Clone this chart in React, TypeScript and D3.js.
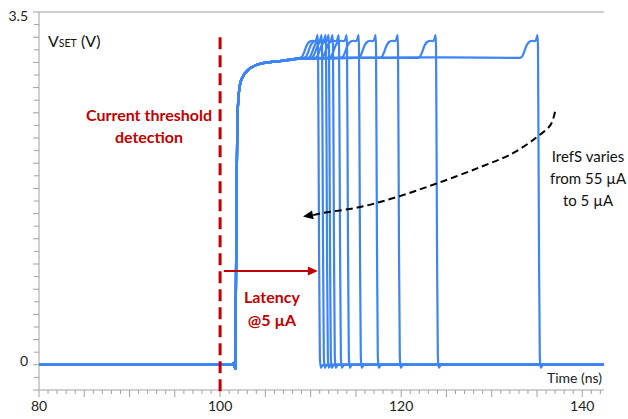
import React, { useEffect } from "react";
import * as d3 from "d3";

const W = 628;
const H = 419;
const margin = { top: 12, right: 24, bottom: 29, left: 39 };

// axes: time in ns, voltage in V
const xDomain: [number, number] = [80, 142.4];
const yDomain: [number, number] = [-0.25, 3.5];
const xLabels = [80, 100, 120, 140];
const yLabels = [0, 3.5];

// rising edge shared by all traces, [t (ns), V]
const riseShape: [number, number][] = [
  [80, 0],
  [101.3, 0],
  [101.5, 0.02],
  [101.68, -0.04],
  [101.78, 1.2],
  [101.9, 2.4],
  [102.1, 2.72],
  [102.4, 2.84],
  [103.3, 2.94],
  [104.6, 2.99],
  [106.4, 3.01],
  [109, 3.04],
  [115, 3.045],
  [125, 3.05],
  [134, 3.05],
];

// fall time of each trace (ns), IrefS from 55 µA down to 5 µA
const fallTimes = [
  110.82, 111.26, 111.7, 112.03, 112.47, 113.14, 114.02, 115.34, 117.22,
  119.65, 123.85, 135.11,
];

// bump + falling edge, [dt from fall time (ns), V]
const fallShape: [number, number][] = [
  [-2.0, 3.045],
  [-1.75, 3.06],
  [-1.5, 3.11],
  [-1.25, 3.17],
  [-0.95, 3.205],
  [-0.6, 3.215],
  [-0.3, 3.21],
  [-0.12, 3.25],
  [-0.05, 3.27],
  [0, 3.15],
  [0.1, 1.3],
  [0.2, 0.08],
  [0.3, -0.03],
  [0.55, 0],
];

// annotations in data units
const thresholdTime = 100;
const thresholdSpan: [number, number] = [3.25, -0.3];
const latencyArrow: [number, number][] = [
  [100.4, 0.93],
  [110.8, 0.93],
];
const irefArrow: [number, number][] = [
  [136.99, 2.51],
  [136.5, 2.38],
  [135.0, 2.26],
  [132.35, 2.1],
  [128.7, 1.96],
  [123.96, 1.8],
  [119.54, 1.665],
  [115.45, 1.565],
  [111.37, 1.506],
  [109.6, 1.47],
];

const BLUE = "#3d85f5";
const RED = "#c00000";
const AXIS = "#a0a0a0";
const FONT = "Lato, 'Open Sans', sans-serif";

export default function App() {
  useEffect(() => {
    document.body.style.margin = "0";
  }, []);

  const x = d3
    .scaleLinear()
    .domain(xDomain)
    .range([margin.left, W - margin.right]);
  const y = d3
    .scaleLinear()
    .domain(yDomain)
    .range([H - margin.bottom, margin.top]);

  const traces = fallTimes.map((tf) => {
    const start = tf + fallShape[0][0];
    const pts: [number, number][] = riseShape.filter((p) => p[0] < start - 0.05);
    fallShape.forEach(([dt, v]) => pts.push([tf + dt, v]));
    pts.push([xDomain[1], 0]);
    return pts;
  });

  const line = d3
    .line<[number, number]>()
    .x((d) => x(d[0]))
    .y((d) => y(d[1]))
    .curve(d3.curveMonotoneX);

  const smooth = d3
    .line<[number, number]>()
    .x((d) => x(d[0]))
    .y((d) => y(d[1]))
    .curve(d3.curveCatmullRom);

  const xTicks = d3.range(80, 143, 1);
  const yTicks = d3.range(0, 31).map((i) => -0.25 + i * 0.125);

  const x0 = x(xDomain[0]);
  const x1 = x(xDomain[1]);
  const yBottom = y(yDomain[0]);
  const yTop = y(yDomain[1]);

  // arrow heads
  const la = latencyArrow[1];
  const lax = x(la[0]);
  const lay = y(la[1]);
  const tip = irefArrow[irefArrow.length - 1];
  const tipx = x(tip[0]) - 4;
  const tipy = y(tip[1]);
  const prev = irefArrow[irefArrow.length - 2];
  const ang = Math.atan2(tipy - y(prev[1]), tipx - x(prev[0]));
  const headPts = [
    [tipx, tipy],
    [tipx - 10 * Math.cos(ang) + 4.5 * Math.sin(ang), tipy - 10 * Math.sin(ang) - 4.5 * Math.cos(ang)],
    [tipx - 10 * Math.cos(ang) - 4.5 * Math.sin(ang), tipy - 10 * Math.sin(ang) + 4.5 * Math.cos(ang)],
  ]
    .map((p) => p.join(","))
    .join(" ");

  return (
    <svg width={W} height={H} style={{ display: "block", background: "#fff" }} fontFamily={FONT}>
      {/* frame */}
      <line x1={x0} x2={x1} y1={yTop} y2={yTop} stroke={AXIS} />
      <line x1={x0} x2={x0} y1={yTop} y2={yBottom} stroke={AXIS} />
      <line x1={x0} x2={x1} y1={yBottom} y2={yBottom} stroke={AXIS} />

      {/* y ticks */}
      {yTicks.map((v, i) => (
        <line
          key={"yt" + i}
          x1={x0 - (i % 2 === 0 ? 6 : 5)}
          x2={x0}
          y1={y(v)}
          y2={y(v)}
          stroke={AXIS}
        />
      ))}
      {yLabels.map((v) => (
        <text key={"yl" + v} x={28} y={y(v) + (v === 0 ? 1 : 9)} textAnchor="end" fontSize={14} fill="#222">
          {v}
        </text>
      ))}

      {/* x ticks */}
      {xTicks.map((t) => (
        <line
          key={"xt" + t}
          x1={x(t)}
          x2={x(t)}
          y1={yBottom}
          y2={yBottom + (t % 5 === 0 ? 7 : 4)}
          stroke={AXIS}
        />
      ))}
      {xLabels.map((t) => (
        <text key={"xl" + t} x={x(t)} y={411} textAnchor="middle" fontSize={14} fill="#222">
          {t}
        </text>
      ))}

      <text x={48} y={47} fontSize={16} fill="#111">
        V<tspan fontSize={10.5}>SET</tspan> (V)
      </text>
      <text x={602} y={383} textAnchor="end" fontSize={14} fill="#222">
        Time (ns)
      </text>

      {/* traces */}
      {traces.map((pts, i) => (
        <path key={"tr" + i} d={line(pts) || ""} fill="none" stroke={BLUE} strokeWidth={2.2} strokeLinejoin="round" />
      ))}

      {/* current threshold detection */}
      <line
        x1={x(thresholdTime)}
        x2={x(thresholdTime)}
        y1={y(thresholdSpan[0])}
        y2={y(thresholdSpan[1])}
        stroke={RED}
        strokeWidth={3}
        strokeDasharray="12,6"
      />
      <text x={149} y={121} textAnchor="middle" fontSize={16} fontWeight="bold" fill={RED}>
        Current threshold
      </text>
      <text x={149} y={143} textAnchor="middle" fontSize={16} fontWeight="bold" fill={RED}>
        detection
      </text>

      {/* latency arrow */}
      <line
        x1={x(latencyArrow[0][0])}
        x2={lax - 8}
        y1={y(latencyArrow[0][1])}
        y2={lay}
        stroke={RED}
        strokeWidth={2}
      />
      <polygon points={`${lax},${lay} ${lax - 10},${lay - 4.5} ${lax - 10},${lay + 4.5}`} fill={RED} />
      <text x={272} y={303} textAnchor="middle" fontSize={16} fontWeight="bold" fill={RED}>
        Latency
      </text>
      <text x={272} y={326} textAnchor="middle" fontSize={16} fontWeight="bold" fill={RED}>
        @5 µA
      </text>

      {/* IrefS arrow */}
      <path d={smooth(irefArrow) || ""} fill="none" stroke="#000" strokeWidth={2} strokeDasharray="7,4" />
      <polygon points={headPts} fill="#000" />
      <text x={588} y={162} textAnchor="middle" fontSize={15} fill="#111">
        IrefS varies
      </text>
      <text x={588} y={184} textAnchor="middle" fontSize={15} fill="#111">
        from 55 µA
      </text>
      <text x={588} y={206} textAnchor="middle" fontSize={15} fill="#111">
        to 5 µA
      </text>
    </svg>
  );
}
